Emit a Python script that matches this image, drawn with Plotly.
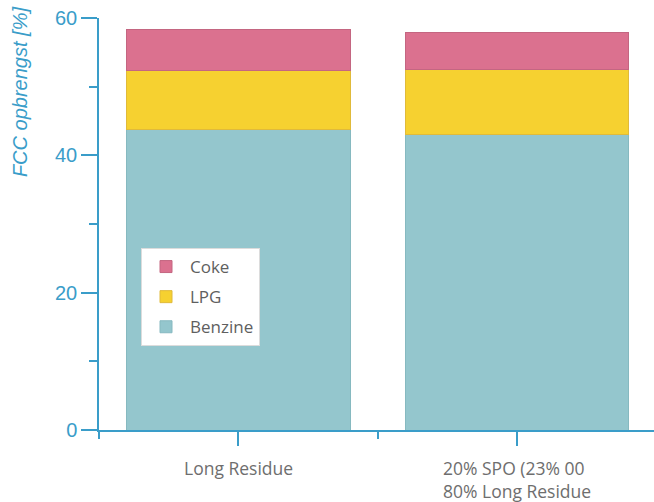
import plotly.graph_objects as go

categories = ["Long Residue", "20% SPO (23% 00<br>80% Long Residue"]
benzine = [43.8, 43.0]
lpg = [8.5, 9.5]
coke = [6.0, 5.4]

x_pos = [0, 1]
axis_color = "#3a9dc9"
label_color = "#6e6e6e"

fig = go.Figure()
fig.add_trace(go.Bar(x=x_pos, y=benzine, name="Benzine", legendgroup="b", legendrank=3,
                     marker=dict(color="#94c6cd", line=dict(color="#86b9c0", width=1)), width=0.8))
fig.add_trace(go.Bar(x=x_pos, y=lpg, name="LPG", legendgroup="l", legendrank=2,
                     marker=dict(color="#f6d130", line=dict(color="#e0ba3a", width=1)), width=0.8))
fig.add_trace(go.Bar(x=x_pos, y=coke, name="Coke", legendgroup="c", legendrank=1,
                     marker=dict(color="#db718f", line=dict(color="#c46681", width=1)), width=0.8))

fig.update_layout(
    barmode="stack",
    width=654, height=502,
    margin=dict(l=99, r=0, t=18, b=72),
    plot_bgcolor="white", paper_bgcolor="white",
    font=dict(family="Liberation Sans, Arial", color=label_color),
    legend=dict(
        x=(141 - 99) / 555, y=(430 - 248) / 412, xanchor="left", yanchor="top",
        bgcolor="white", bordercolor="#dcdcdc", borderwidth=1,
        font=dict(family="Open Sans", size=17, color="#5f5f5f"),
        traceorder="grouped", tracegroupgap=5,
        itemwidth=38,
    ),
    xaxis=dict(
        range=[-0.5, 1.49], tickmode="array", tickvals=x_pos, ticktext=["", ""],
        showline=True, linecolor=axis_color, linewidth=1.5,
        ticks="outside", ticklen=14, tickcolor=axis_color, tickwidth=1.5,
        minor=dict(tickmode="array", tickvals=[-0.5, 0.5, 1.5], ticks="outside",
                   ticklen=7, tickcolor=axis_color, tickwidth=1.5, showgrid=False),
        showgrid=False, zeroline=False,
    ),
    yaxis=dict(
        range=[0, 60], tickvals=[0, 20, 40, 60],
        showline=True, linecolor=axis_color, linewidth=1.5,
        ticks="outside", ticklen=16, tickcolor=axis_color, tickwidth=1.5,
        minor=dict(tickvals=[10, 30, 50], ticks="outside", ticklen=8,
                   tickcolor=axis_color, tickwidth=1.5, showgrid=False),
        tickfont=dict(family="Liberation Sans, Arial", size=20, color=axis_color),
        showgrid=False, zeroline=False,
    ),
)

# x category labels
fig.add_annotation(x=x_pos[0], y=0, xref="x", yref="y", yshift=-24, yanchor="top",
                   text=categories[0], showarrow=False,
                   font=dict(family="Open Sans", size=17.5, color=label_color))
fig.add_annotation(x=x_pos[1], y=0, xref="x", yref="y", yshift=-24, yanchor="top",
                   text=categories[1], showarrow=False, align="left",
                   font=dict(family="Open Sans", size=17.5, color=label_color))

# y axis title
fig.add_annotation(xref="x domain", yref="y domain", x=-0.142, y=1.033,
                   xanchor="center", yanchor="top", text="<i>FCC opbrengst [%]</i>",
                   showarrow=False, textangle=-90,
                   font=dict(family="Liberation Sans, Arial", size=20, color=axis_color))

fig.write_html("out.html")
